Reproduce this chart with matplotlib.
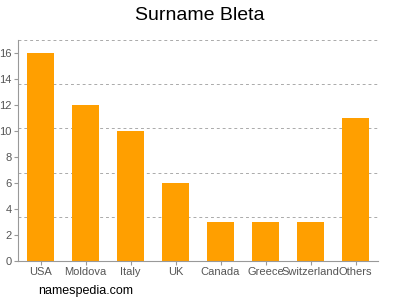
import matplotlib
matplotlib.use("Agg")
import matplotlib.pyplot as plt

plt.rcParams["font.family"] = ["Liberation Sans", "DejaVu Sans"]

# Surname counts by country
countries = ["USA", "Moldova", "Italy", "UK", "Canada", "Greece", "Switzerland", "Others"]
counts = [16, 12, 10, 6, 3, 3, 3, 11]
y_ticks = [0, 2, 4, 6, 8, 10, 12, 14, 16]
grid_levels = [3.4, 6.8, 10.2, 13.6, 17]

fig = plt.figure(figsize=(4, 3), dpi=100)
ax = fig.add_axes([0.045, 0.13, 0.9, 0.7367])

x = range(len(countries))
ax.bar(x, counts, width=0.62, color="#ff9f00", zorder=2)

ax.set_xlim(-0.5, len(countries) - 0.5)
ax.set_ylim(0, 17)
ax.set_xticks(list(x))
ax.set_xticklabels(countries)
ax.set_yticks(y_ticks)

for g in grid_levels:
    ax.axhline(g, color="#aaaaaa", linestyle=(0, (3, 3)), linewidth=0.7, zorder=1)

for side in ["top", "right"]:
    ax.spines[side].set_visible(False)
for side in ["left", "bottom"]:
    ax.spines[side].set_color("#999999")
    ax.spines[side].set_linewidth(0.8)

ax.tick_params(axis="both", colors="#999999", labelcolor="#555555", labelsize=8, length=3, width=0.8, pad=1.5)

fig.text(0.5, 0.95, "Surname Bleta", ha="center", va="center", fontsize=14)
fig.text(0.095, 0.03, "namespedia.com", ha="left", va="center", fontsize=9)

fig.savefig("out.png", dpi=100)
